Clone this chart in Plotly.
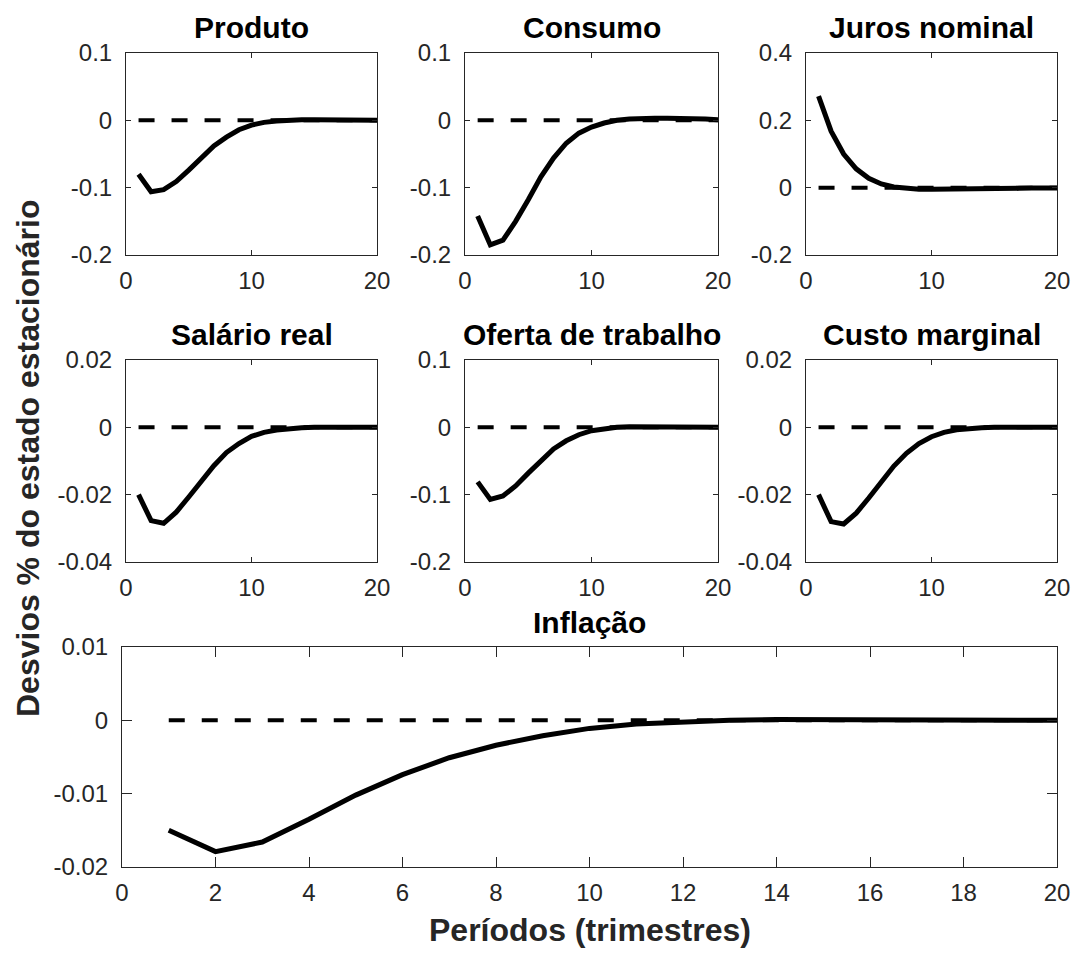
import plotly.graph_objects as go

W, H = 1075, 954

periods = list(range(1, 21))

produto = [-0.080, -0.106, -0.103, -0.091, -0.074, -0.057, -0.038, -0.025, -0.014, -0.007,
           -0.003, -0.001, 0.0005, 0.001, 0.001, 0.001, 0.0008, 0.0005, 0.0003, 0.0002]
consumo = [-0.142, -0.185, -0.178, -0.150, -0.118, -0.084, -0.056, -0.034, -0.019, -0.010,
           -0.004, 0.000, 0.002, 0.003, 0.003, 0.003, 0.003, 0.002, 0.002, 0.001]
juros = [0.272, 0.168, 0.100, 0.056, 0.028, 0.011, 0.002, -0.003, -0.005, -0.005,
         -0.005, -0.004, -0.004, -0.003, -0.003, -0.002, -0.002, -0.001, -0.001, -0.001]
salario = [-0.0200, -0.0277, -0.0285, -0.0252, -0.0207, -0.0159, -0.0114, -0.0075, -0.0048, -0.0027,
           -0.0015, -0.0008, -0.0003, -0.0001, 0.0, 0.0, 0.0, 0.0, 0.0, 0.0]
oferta = [-0.081, -0.107, -0.102, -0.087, -0.068, -0.049, -0.032, -0.020, -0.011, -0.005,
          -0.002, 0.000, 0.001, 0.001, 0.001, 0.0008, 0.0006, 0.0005, 0.0003, 0.0002]
custo = [-0.0200, -0.0280, -0.0287, -0.0255, -0.0210, -0.0160, -0.0115, -0.0077, -0.0048, -0.0028,
         -0.0015, -0.0007, -0.0003, -0.0001, 0.0, 0.0, 0.0, 0.0, 0.0, 0.0]
inflacao = [-0.0150, -0.0179, -0.0166, -0.0135, -0.0102, -0.0074, -0.0051, -0.0034, -0.0021, -0.0011,
            -0.0005, -0.0002, 0.0000, 0.0001, 0.0001, 0.0001, 0.0001, 0.0000, 0.0000, 0.0000]
steady = [0.0] * 20

titles = ["Produto", "Consumo", "Juros nominal", "Salário real",
          "Oferta de trabalho", "Custo marginal", "Inflação"]
series = [produto, consumo, juros, salario, oferta, custo, inflacao]
yticks = [[-0.2, -0.1, 0, 0.1], [-0.2, -0.1, 0, 0.1], [-0.2, 0, 0.2, 0.4],
          [-0.04, -0.02, 0, 0.02], [-0.2, -0.1, 0, 0.1], [-0.04, -0.02, 0, 0.02],
          [-0.02, -0.01, 0, 0.01]]
yticklabels = [["-0.2", "-0.1", "0", "0.1"], ["-0.2", "-0.1", "0", "0.1"],
               ["-0.2", "0", "0.2", "0.4"], ["-0.04", "-0.02", "0", "0.02"],
               ["-0.2", "-0.1", "0", "0.1"], ["-0.04", "-0.02", "0", "0.02"],
               ["-0.02", "-0.01", "0", "0.01"]]
xticks_small = [0, 10, 20]
xticks_big = list(range(0, 21, 2))

# panel boxes in window pixels: (x0, x1, y0_top, y1_bottom)
boxes = [(126, 377, 53, 255), (465, 718, 53, 255), (806, 1057, 53, 255),
         (126, 377, 360, 562), (465, 718, 360, 562), (806, 1057, 360, 562),
         (122, 1057, 647, 867)]


def px(x):
    return x / W


def py(y):
    return 1 - y / H


AX = "#262626"
FONT = "Liberation Sans, Arial, Helvetica, sans-serif"

fig = go.Figure()
layout = {}
annotations = []
for i, (ttl, ys, yt, ytl, box) in enumerate(zip(titles, series, yticks, yticklabels, boxes)):
    n = i + 1
    xa = "x" if n == 1 else f"x{n}"
    ya = "y" if n == 1 else f"y{n}"
    fig.add_trace(go.Scatter(x=periods, y=ys, mode="lines", xaxis=xa, yaxis=ya,
                             line=dict(color="black", width=5), showlegend=False,
                             hoverinfo="skip"))
    fig.add_trace(go.Scatter(x=periods, y=steady, mode="lines", xaxis=xa, yaxis=ya,
                             line=dict(color="black", width=4, dash="16px,17px"),
                             showlegend=False, hoverinfo="skip"))
    x0, x1, y0, y1 = box
    big = (n == 7)
    ticklen = 10 if big else 5
    xt = xticks_big if big else xticks_small
    layout["xaxis" if n == 1 else f"xaxis{n}"] = dict(
        domain=[px(x0), px(x1)], anchor=ya, range=[0, 20],
        tickvals=xt, ticktext=[str(v) for v in xt],
        showline=True, linecolor=AX, linewidth=1, mirror="allticks",
        ticks="inside", ticklen=ticklen, tickcolor=AX, tickwidth=1,
        showgrid=False, zeroline=False, ticklabelstandoff=4, automargin=False,
        tickfont=dict(family=FONT, size=24, color=AX),
    )
    layout["yaxis" if n == 1 else f"yaxis{n}"] = dict(
        domain=[py(y1), py(y0)], anchor=xa, range=[yt[0], yt[-1]],
        tickvals=yt, ticktext=ytl,
        showline=True, linecolor=AX, linewidth=1, mirror="allticks",
        ticks="inside", ticklen=ticklen, tickcolor=AX, tickwidth=1,
        showgrid=False, zeroline=False, ticklabelstandoff=8, automargin=False,
        tickfont=dict(family=FONT, size=24, color=AX),
    )
    annotations.append(dict(text=f"<b>{ttl}</b>", xref="paper", yref="paper",
                            x=px((x0 + x1) / 2), y=py(y0 - 25),
                            xanchor="center", yanchor="middle", showarrow=False,
                            font=dict(family=FONT, size=30, color="black")))

annotations.append(dict(text="<b>Desvios % do estado estacionário</b>", xref="paper", yref="paper",
                        x=px(28), y=py(458), xanchor="center", yanchor="middle",
                        textangle=-90, showarrow=False,
                        font=dict(family=FONT, size=32, color=AX)))
annotations.append(dict(text="<b>Períodos (trimestres)</b>", xref="paper", yref="paper",
                        x=px(589.5), y=py(930), xanchor="center", yanchor="middle",
                        showarrow=False, font=dict(family=FONT, size=32, color=AX)))

fig.update_layout(width=W, height=H, margin=dict(l=0, r=0, t=0, b=0, autoexpand=False),
                  paper_bgcolor="white", plot_bgcolor="white",
                  annotations=annotations, **layout)

fig.write_html("out.html", config={"displayModeBar": False},
               post_script="document.body.style.margin='0';document.body.style.overflow='hidden';")
